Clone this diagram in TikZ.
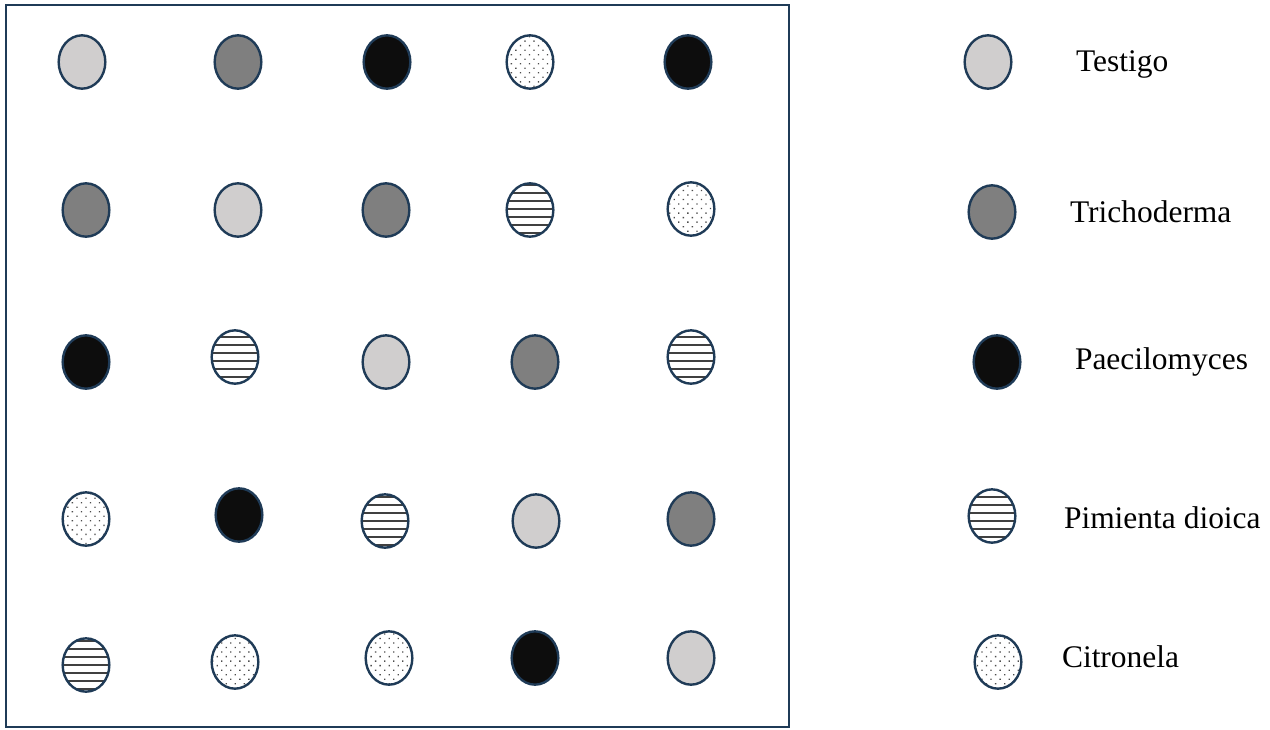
\documentclass[tikz,border=0pt]{standalone}
\usepackage{fontspec}
\setmainfont{Liberation Serif}
\usetikzlibrary{shapes.geometric,patterns.meta}
\definecolor{edgeblue}{HTML}{1F3B57}
\definecolor{lightgr}{HTML}{D0CECE}
\definecolor{midgr}{HTML}{7F7F7F}
\definecolor{darkfill}{HTML}{0D0D0D}
\definecolor{hatchgr}{HTML}{404040}
\definecolor{dotgr}{HTML}{4D4D4D}
\begin{document}
\begin{tikzpicture}[x=0.75pt, y=-0.75pt, line width=1.5pt,
  plant/.style={ellipse, draw=edgeblue, line width=1.8pt, inner sep=0pt, minimum width=35pt, minimum height=40pt},
  testigo/.style={plant, fill=lightgr},
  tricho/.style={plant, fill=midgr},
  paeci/.style={plant, fill=darkfill},
  pimienta/.style={plant, pattern={Lines[angle=0, distance=6pt, line width=1.1pt]}, pattern color=hatchgr},
  citro/.style={plant, pattern={Dots[angle=45, distance=4.8pt, radius=0.7pt]}, pattern color=dotgr},
  label/.style={anchor=base west, inner sep=0pt, font=\fontsize{23.6}{28}\selectfont}]
  \useasboundingbox (0,0) rectangle (1270,729);
  \draw[edgeblue] (6,4.5) rectangle (789,727);
  % field plots, row by row
  \node[testigo]  (A1) at (82,62) {};
  \node[tricho]   (A2) at (238,62) {};
  \node[paeci]    (A3) at (387,62) {};
  \node[citro]    (A4) at (530,62) {};
  \node[paeci]    (A5) at (688,62) {};
  \node[tricho]   (B1) at (86,210) {};
  \node[testigo]  (B2) at (238,210) {};
  \node[tricho]   (B3) at (386,210) {};
  \node[pimienta] (B4) at (530,210) {};
  \node[citro]    (B5) at (691,209) {};
  \node[paeci]    (C1) at (86,362) {};
  \node[pimienta] (C2) at (235,357) {};
  \node[testigo]  (C3) at (386,362) {};
  \node[tricho]   (C4) at (535,362) {};
  \node[pimienta] (C5) at (691,357) {};
  \node[citro]    (D1) at (86,519) {};
  \node[paeci]    (D2) at (239,515) {};
  \node[pimienta] (D3) at (385,521) {};
  \node[testigo]  (D4) at (536,521) {};
  \node[tricho]   (D5) at (691,519) {};
  \node[pimienta] (E1) at (86,665) {};
  \node[citro]    (E2) at (235,662) {};
  \node[citro]    (E3) at (389,658) {};
  \node[paeci]    (E4) at (535,658) {};
  \node[testigo]  (E5) at (691,658) {};
  % legend
  \node[testigo]  (LT) at (988,62) {};
  \node[tricho]   (LR) at (992,212) {};
  \node[paeci]    (LP) at (997,362) {};
  \node[pimienta] (LD) at (992,516) {};
  \node[citro]    (LC) at (998,662) {};
  \node[label] (tT) at (1075,71) {Testigo};
  \node[label] (tR) at (1069,222) {Trichoderma};
  \node[label] (tP) at (1074,369) {Paecilomyces};
  \node[label] (tD) at (1063,528) {Pimienta dioica};
  \node[label] (tC) at (1061,667) {Citronela};
\end{tikzpicture}
\end{document}
